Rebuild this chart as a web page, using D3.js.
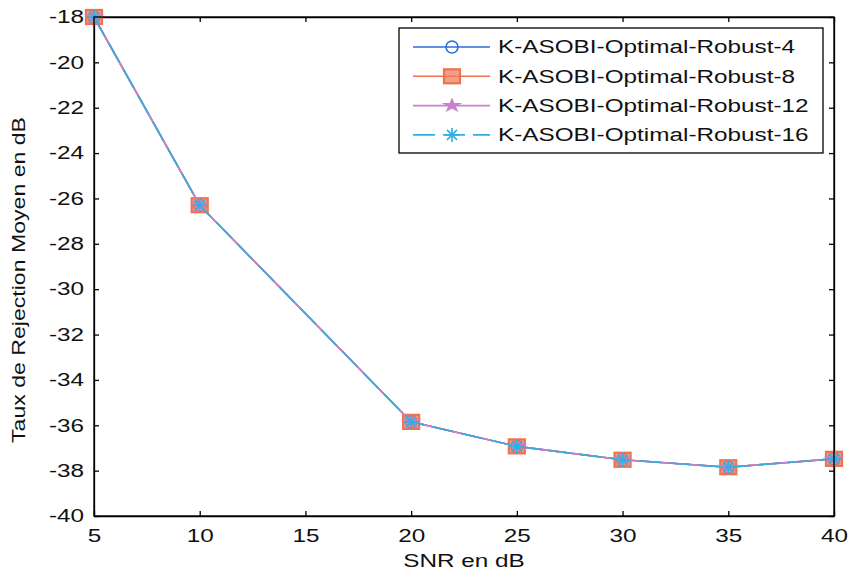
<!DOCTYPE html>
<meta charset="utf-8">
<style>
body { margin: 0; background: #fff; }
text { font-family: "Liberation Sans", Arial, sans-serif; font-size: 18px; fill: #111; }
.axis path, .axis line { stroke: #000; stroke-width: 1.3; }
</style>
<svg width="849" height="574"></svg>
<script src="https://cdn.jsdelivr.net/npm/d3@7"></script>
<script>
// SNR (dB) values where the rejection rate was measured
var snr = [5, 10, 20, 25, 30, 35, 40];
// mean rejection rate (dB) for each variant, they all overlap
var robust4  = [-18, -26.3, -35.85, -36.93, -37.52, -37.85, -37.48];
var robust8  = [-18, -26.3, -35.85, -36.93, -37.52, -37.85, -37.48];
var robust12 = [-18, -26.3, -35.85, -36.93, -37.52, -37.85, -37.48];
var robust16 = [-18, -26.3, -35.85, -36.93, -37.52, -37.85, -37.48];
var names = ["K-ASOBI-Optimal-Robust-4", "K-ASOBI-Optimal-Robust-8",
             "K-ASOBI-Optimal-Robust-12", "K-ASOBI-Optimal-Robust-16"];
var xTicks = [5, 10, 15, 20, 25, 30, 35, 40];
var yTicks = [-40, -38, -36, -34, -32, -30, -28, -26, -24, -22, -20, -18];

var series = [
  {name: names[0], values: robust4,  color: "#2a6fd8", marker: "circle", dash: null},
  {name: names[1], values: robust8,  color: "#ee7250", marker: "square", dash: null},
  {name: names[2], values: robust12, color: "#cc80cc", marker: "star",   dash: null},
  {name: names[3], values: robust16, color: "#33aee0", marker: "asterisk", dash: "22,8"}
];

var svg = d3.select("svg"),
    pL = 94, pR = 834, pT = 17, pB = 516;

var x = d3.scaleLinear().domain([5, 40]).range([pL, pR]);
var y = d3.scaleLinear().domain([-40, -18]).range([pB, pT]);

// plain hyphen for negatives, as matlab prints them
var fmt = function(d) { return String(d); };

svg.append("rect").attr("x", pL).attr("y", pT)
    .attr("width", pR - pL).attr("height", pB - pT).attr("fill", "#fff");

// box axes, ticks pointing inward like matlab
svg.append("g").attr("class", "axis")
    .attr("transform", "translate(0," + pB + ")")
    .call(d3.axisBottom(x).tickValues(xTicks).tickFormat(fmt).tickSizeInner(-5).tickSizeOuter(0).tickPadding(13));
svg.append("g").attr("class", "axis")
    .attr("transform", "translate(0," + pT + ")")
    .call(d3.axisTop(x).tickValues(xTicks).tickSizeInner(-5).tickSizeOuter(0).tickFormat(""));
svg.append("g").attr("class", "axis")
    .attr("transform", "translate(" + pL + ",0)")
    .call(d3.axisLeft(y).tickValues(yTicks).tickFormat(fmt).tickSizeInner(-5).tickSizeOuter(0).tickPadding(10));
svg.append("g").attr("class", "axis")
    .attr("transform", "translate(" + pR + ",0)")
    .call(d3.axisRight(y).tickValues(yTicks).tickSizeInner(-5).tickSizeOuter(0).tickFormat(""));
svg.selectAll(".axis text").style("font-size", "18px").attr("fill", "#111")
    .attr("font-family", "Liberation Sans, Arial, sans-serif");

var line = d3.line()
    .x(function(d) { return x(d[0]); })
    .y(function(d) { return y(d[1]); });

function drawMarker(g, type, color, cx, cy) {
  if (type == "circle") {
    g.append("circle").attr("cx", cx).attr("cy", cy).attr("r", 6)
      .attr("fill", "none").attr("stroke", color).attr("stroke-width", 1.6);
  } else if (type == "square") {
    g.append("rect").attr("x", cx - 8).attr("y", cy - 7).attr("width", 16).attr("height", 14)
      .attr("fill", "rgba(240,125,95,0.75)").attr("stroke", color).attr("stroke-width", 2.2);
  } else if (type == "star") {
    g.append("path").attr("transform", "translate(" + cx + "," + cy + ") scale(1.2,0.9)")
      .attr("d", d3.symbol().type(d3.symbolStar).size(60)())
      .attr("fill", color).attr("stroke", color).attr("stroke-width", 1);
  } else {
    var p = d3.path();
    p.moveTo(cx - 7, cy); p.lineTo(cx + 7, cy);
    p.moveTo(cx, cy - 7); p.lineTo(cx, cy + 7);
    p.moveTo(cx - 5, cy - 5); p.lineTo(cx + 5, cy + 5);
    p.moveTo(cx - 5, cy + 5); p.lineTo(cx + 5, cy - 5);
    g.append("path").attr("d", p.toString()).attr("stroke", color).attr("stroke-width", 1.6);
  }
}

series.forEach(function(s) {
  var pts = snr.map(function(v, i) { return [v, s.values[i]]; });
  var g = svg.append("g");
  g.append("path").datum(pts).attr("d", line)
    .attr("fill", "none").attr("stroke", s.color).attr("stroke-width", 1.6)
    .attr("stroke-dasharray", s.dash);
  pts.forEach(function(d) { drawMarker(g, s.marker, s.color, x(d[0]), y(d[1])); });
});

// redraw the box edges on top
svg.append("rect").attr("x", pL).attr("y", pT)
    .attr("width", pR - pL).attr("height", pB - pT)
    .attr("fill", "none").attr("stroke", "#000").attr("stroke-width", 1.3);

// legend
var lg = svg.append("g");
lg.append("rect").attr("x", 399).attr("y", 28).attr("width", 424).attr("height", 125)
    .attr("fill", "#fff").attr("stroke", "#000").attr("stroke-width", 1.3);
series.forEach(function(s, i) {
  var cy = 47 + i * 29.3;
  lg.append("line").attr("x1", 413).attr("x2", 490).attr("y1", cy).attr("y2", cy)
    .attr("stroke", s.color).attr("stroke-width", 1.6).attr("stroke-dasharray", s.dash);
  drawMarker(lg, s.marker, s.color, 452, cy);
  lg.append("text").attr("class", "wide").attr("x", 498).attr("y", cy).attr("dy", "0.36em").text(s.name);
});

svg.append("text").attr("class", "wide").attr("x", 464).attr("y", 567)
    .attr("text-anchor", "middle").text("SNR en dB");

svg.append("text").attr("class", "ylab")
    .attr("transform", "translate(25,280) rotate(-90)")
    .attr("text-anchor", "middle").style("font-size", "19px")
    .text("Taux de Rejection Moyen en dB");

// the source picture is stretched sideways, so widen the text
svg.selectAll(".axis text, text.wide").each(function() {
  var w = this.getComputedTextLength();
  d3.select(this).attr("textLength", w * 1.35).attr("lengthAdjust", "spacingAndGlyphs");
});
svg.select("text.ylab").each(function() {
  d3.select(this).attr("textLength", 326).attr("lengthAdjust", "spacingAndGlyphs");
});
</script>
